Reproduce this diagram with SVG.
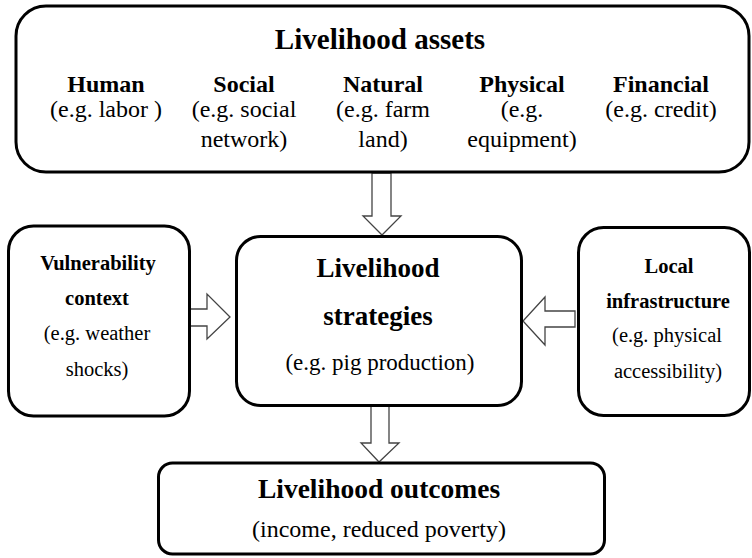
<svg xmlns="http://www.w3.org/2000/svg" width="752" height="558" viewBox="0 0 752 558">
<style>
.box{fill:#fff;stroke:#000;stroke-width:3}
.arr{fill:#fff;stroke:#444;stroke-width:1.3;stroke-linejoin:miter}
text{font-family:"Liberation Serif","Times New Roman",serif;fill:#000;text-anchor:middle}
.b{font-weight:bold}
</style>
<rect width="752" height="558" fill="#fff"/>
<g id="connectors">
<polygon class="arr" points="372,173 391,173 391,216 401,216 382,235 363,216 372,216"/>
<polygon class="arr" points="371,406 389,406 389,443 399,443 379,462 361,443 371,443"/>
<polygon class="arr" points="185,309 207,309 207,294 230,317 207,339 207,326 185,326"/>
<polygon class="arr" points="575,311 545,311 545,297 523,321 545,345 545,327 575,327"/>
</g>
<g id="assets">
<rect class="box" x="16" y="6" width="733" height="166" rx="30"/>
<text class="b" x="380" y="49" font-size="29">Livelihood assets</text>
<g font-size="24">
<text class="b" x="106" y="92">Human</text>
<text x="106" y="117">(e.g. labor )</text>
<text class="b" x="244" y="92">Social</text>
<text x="244" y="117">(e.g. social</text>
<text x="244" y="147">network)</text>
<text class="b" x="383" y="92">Natural</text>
<text x="383" y="117">(e.g. farm</text>
<text x="383" y="147">land)</text>
<text class="b" x="522" y="92">Physical</text>
<text x="522" y="117">(e.g.</text>
<text x="522" y="147">equipment)</text>
<text class="b" x="661" y="92">Financial</text>
<text x="661" y="117">(e.g. credit)</text>
</g>
</g>
<g id="vulnerability">
<rect class="box" x="8.5" y="226" width="181" height="190" rx="25"/>
<g font-size="20.5">
<text class="b" x="98" y="270">Vulnerability</text>
<text class="b" x="97" y="305">context</text>
<text x="97" y="340">(e.g. weather</text>
<text x="97" y="376">shocks)</text>
</g>
</g>
<g id="strategies">
<rect class="box" x="236.5" y="236.5" width="285" height="169" rx="24"/>
<text class="b" x="378" y="277" font-size="27">Livelihood</text>
<text class="b" x="378" y="325" font-size="27">strategies</text>
<text x="380" y="370" font-size="23">(e.g. pig production)</text>
</g>
<g id="infrastructure">
<rect class="box" x="578.5" y="227.5" width="171" height="188" rx="25"/>
<g font-size="20.5">
<text class="b" x="669" y="273">Local</text>
<text class="b" x="668" y="308">infrastructure</text>
<text x="667" y="342">(e.g. physical</text>
<text x="668" y="378">accessibility)</text>
</g>
</g>
<g id="outcomes">
<rect class="box" x="158.5" y="463" width="446" height="91" rx="14"/>
<text class="b" x="379" y="498" font-size="27.5">Livelihood outcomes</text>
<text x="379" y="537" font-size="24">(income, reduced poverty)</text>
</g>
</svg>
